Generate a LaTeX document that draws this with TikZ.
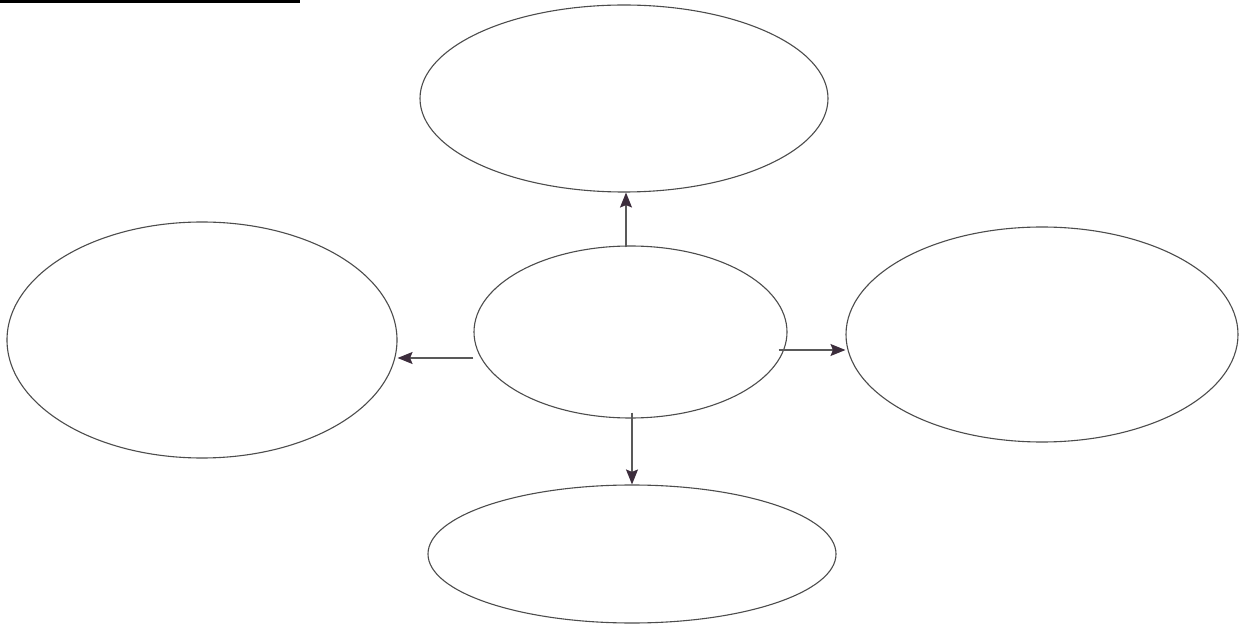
\documentclass[tikz,border=0pt]{standalone}
\usetikzlibrary{shapes.geometric,arrows.meta,calc}
\definecolor{arrowhead}{RGB}{60,45,60}
\begin{document}
\begin{tikzpicture}[x=1pt,y=1pt,
  oval/.style={draw=black!70, line width=1.1pt, ellipse, inner sep=0pt},
  arr/.style={draw=black!65, line width=1.1pt, -{Stealth[length=15pt,width=12pt,inset=2.5pt,color=arrowhead]}}]
\useasboundingbox (0,0) rectangle (1242,627);
\fill[white] (0,0) rectangle (1242,627);
\draw[line width=2.6pt, black] (0,625.5) -- (300,625.5);
\node[oval, minimum width=408pt, minimum height=187pt] (t) at (624,528.5) {};
\node[oval, minimum width=390pt, minimum height=236pt] (l) at (202,287) {};
\node[oval, minimum width=313pt, minimum height=172pt] (c) at (630.5,295) {};
\node[oval, minimum width=392pt, minimum height=215pt] (r) at (1042,292.5) {};
\node[oval, minimum width=408pt, minimum height=138pt] (b) at (632,73) {};
\coordinate (us) at ($(c.north)+(-4.5,-2)$);
\draw[arr] (us) -- (us |- t.south);
\coordinate (ls) at ($(c.west)+(0,-26)$);
\draw[arr] (ls) -- (ls -| l.east);
\coordinate (rs) at ($(c.east)+(-9,-18)$);
\draw[arr] (rs) -- (rs -| r.west);
\coordinate (ds) at ($(c.south)+(1.5,6)$);
\draw[arr] (ds) -- (ds |- b.north);
\end{tikzpicture}
\end{document}
